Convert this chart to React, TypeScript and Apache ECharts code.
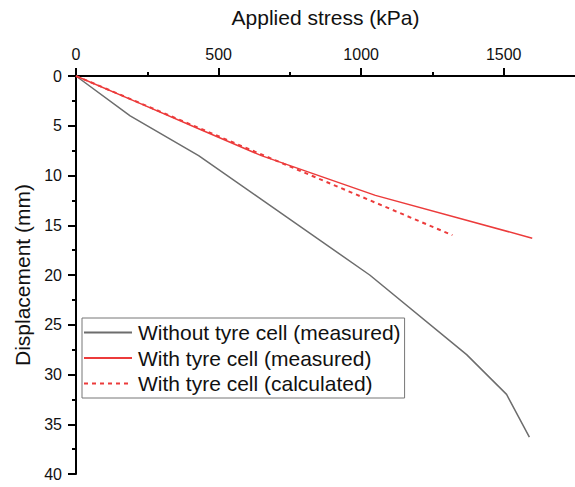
import React, { useEffect, useRef } from "react";
import * as echarts from "echarts";

// Applied stress (kPa) vs displacement (mm)
const withoutStress = [0, 190, 430, 630, 1030, 1370, 1510, 1590];
const withoutDisp = [0, 4, 8, 12, 20, 28, 32, 36.3];

const measuredStress = [0, 220, 430, 650, 1050, 1600];
const measuredDisp = [0, 2.7, 5.3, 8.0, 12, 16.3];

const calculatedStress = [0, 1320];
const calculatedDisp = [0, 16];

const xTickLabels = [0, 500, 1000, 1500];
const xMinorTicks = [250, 750, 1250];
const yTickLabels = [0, 5, 10, 15, 20, 25, 30, 35, 40];

const seriesNames = [
  "Without tyre cell (measured)",
  "With tyre cell (measured)",
  "With tyre cell (calculated)",
];

const FONT = "'Liberation Sans', Arial, sans-serif";

const pairs = (xs: number[], ys: number[]) => xs.map((x, i) => [x, ys[i]]);

export default function App() {
  const ref = useRef<HTMLDivElement>(null);

  useEffect(() => {
    if (!ref.current) return;
    const chart = echarts.init(ref.current, undefined, { renderer: "svg" });
    chart.setOption({
      animation: false,
      textStyle: { fontFamily: FONT },
      grid: { left: 76, top: 76, right: 0, bottom: 13, containLabel: false, outerBoundsMode: "none" },
      legend: {
        orient: "vertical",
        left: 82,
        top: 318,
        padding: [3.5, 4, 3.5, 1],
        itemGap: 3.5,
        itemWidth: 48,
        itemHeight: 14,
        borderColor: "#777",
        borderWidth: 1,
        itemStyle: { opacity: 0 },
        data: seriesNames,
        textStyle: { fontFamily: FONT, fontSize: 21, color: "#111", lineHeight: 22, padding: [0, 0, 0, 1] },
      },
      xAxis: [
        {
          type: "value",
          position: "top",
          min: 0,
          max: 1750,
          interval: 500,
          name: "Applied stress (kPa)",
          nameLocation: "middle",
          nameGap: 48,
          nameTextStyle: { fontFamily: FONT, fontSize: 21, color: "#111" },
          axisLine: { show: true, onZero: false, lineStyle: { color: "#000", width: 2 } },
          axisTick: { show: true, inside: false, length: 8, customValues: xTickLabels, lineStyle: { color: "#000", width: 2 } },
          axisLabel: {
            fontFamily: FONT,
            fontSize: 16,
            color: "#111",
            margin: 14,
            customValues: xTickLabels,
            formatter: (v: number) => String(v),
          },
          splitLine: { show: false },
        },
        {
          type: "value",
          position: "top",
          min: 0,
          max: 1750,
          interval: 250,
          axisLine: { show: false },
          axisTick: { show: true, length: 4, customValues: xMinorTicks, lineStyle: { color: "#000", width: 2 } },
          axisLabel: { show: false },
          splitLine: { show: false },
        },
      ],
      yAxis: {
        type: "value",
        inverse: true,
        min: 0,
        max: 40,
        interval: 5,
        name: "Displacement (mm)",
        nameLocation: "middle",
        nameGap: 43,
        nameTextStyle: { fontFamily: FONT, fontSize: 21, color: "#111" },
        axisLine: { show: true, onZero: false, lineStyle: { color: "#000", width: 2 } },
        axisTick: { show: true, length: 8, customValues: yTickLabels, lineStyle: { color: "#000", width: 2 } },
        minorTick: { show: true, splitNumber: 2, length: 4, lineStyle: { color: "#000", width: 2 } },
        axisLabel: { fontFamily: FONT, fontSize: 16, color: "#111", margin: 14, customValues: yTickLabels },
        splitLine: { show: false },
      },
      series: [
        {
          name: seriesNames[0],
          type: "line",
          data: pairs(withoutStress, withoutDisp),
          symbol: "none",
          color: "#6d6d6d",
          lineStyle: { color: "#6d6d6d", width: 1.5 },
        },
        {
          name: seriesNames[1],
          type: "line",
          data: pairs(measuredStress, measuredDisp),
          symbol: "none",
          color: "#ec3b3b",
          lineStyle: { color: "#ec3b3b", width: 1.5 },
        },
        {
          name: seriesNames[2],
          type: "line",
          data: pairs(calculatedStress, calculatedDisp),
          symbol: "none",
          color: "#ec3b3b",
          lineStyle: { color: "#ec3b3b", width: 2, type: [4, 4] },
        },
      ],
    });
    return () => chart.dispose();
  }, []);

  return <div ref={ref} style={{ width: 575, height: 487, position: "absolute", left: 0, top: 0 }} />;
}
